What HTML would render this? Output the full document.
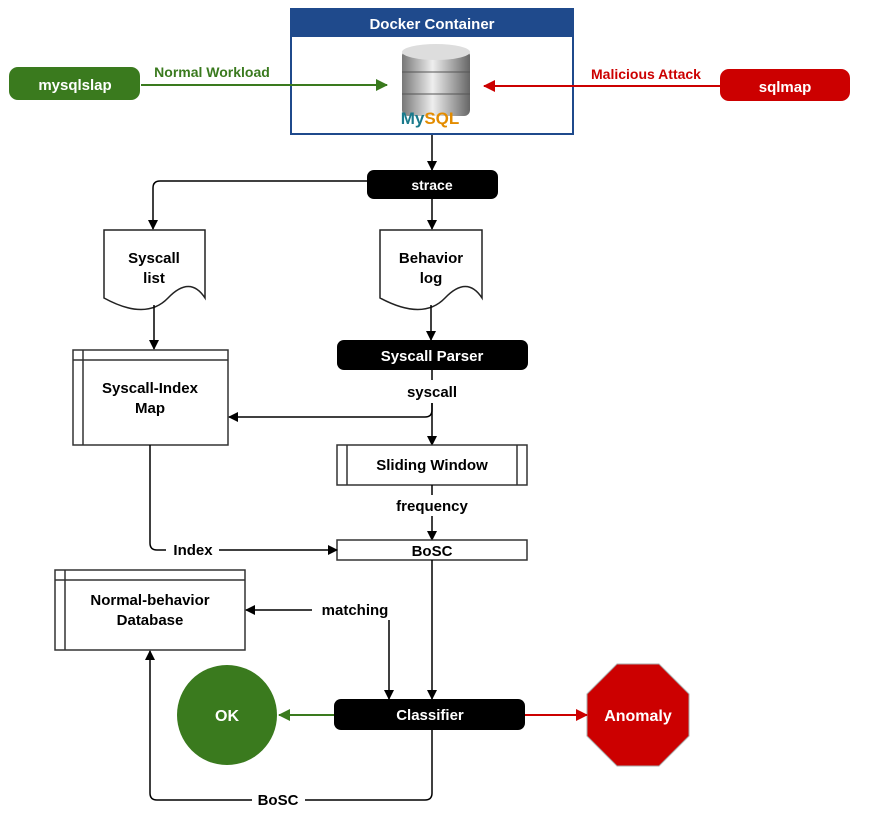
<!DOCTYPE html>
<html><head><meta charset="utf-8"><style>
body{margin:0;background:#fff}
svg text{font-family:"Liberation Sans",Arial,sans-serif;font-weight:bold}
</style></head><body>
<svg width="875" height="830" viewBox="0 0 875 830" xmlns="http://www.w3.org/2000/svg">
<defs>
<marker id="ab" markerWidth="10" markerHeight="10" refX="9" refY="5" orient="auto" markerUnits="userSpaceOnUse"><path d="M0,0 L10,5 L0,10 Z" fill="#000"/></marker>
<marker id="ag" markerWidth="12" markerHeight="12" refX="11" refY="6" orient="auto" markerUnits="userSpaceOnUse"><path d="M0,0 L12,6 L0,12 Z" fill="#3a7a1e"/></marker>
<marker id="ar" markerWidth="12" markerHeight="12" refX="11" refY="6" orient="auto" markerUnits="userSpaceOnUse"><path d="M0,0 L12,6 L0,12 Z" fill="#cc0000"/></marker>
<linearGradient id="cyl" x1="0" x2="1"><stop offset="0" stop-color="#777"/><stop offset="0.45" stop-color="#eee"/><stop offset="1" stop-color="#666"/></linearGradient>
</defs>
<!-- Docker -->
<rect x="291" y="9" width="282" height="125" fill="#fff" stroke="#1f4a8c" stroke-width="2"/>
<rect x="291" y="9" width="282" height="28" fill="#1f4a8c"/>
<text x="432" y="29" font-size="15" fill="#fff" text-anchor="middle">Docker Container</text>
<g>
<rect x="402" y="50" width="68" height="66" rx="6" fill="url(#cyl)"/>
<ellipse cx="436" cy="52" rx="34" ry="8" fill="#ddd"/>
<line x1="402" y1="72" x2="470" y2="72" stroke="#555"/>
<line x1="402" y1="94" x2="470" y2="94" stroke="#555"/>
<text x="430" y="124" font-size="17" fill="#1a7a8c" text-anchor="middle">My<tspan fill="#e38c00">SQL</tspan></text>
</g>
<!-- pills -->
<rect x="9" y="67" width="131" height="33" rx="9" fill="#3a7a1e"/>
<text x="75" y="90" font-size="15" fill="#fff" text-anchor="middle">mysqlslap</text>
<rect x="720" y="69" width="130" height="32" rx="9" fill="#cc0000"/>
<text x="785" y="92" font-size="15" fill="#fff" text-anchor="middle">sqlmap</text>
<line x1="141" y1="85" x2="387" y2="85" stroke="#3a7a1e" stroke-width="2" marker-end="url(#ag)"/>
<text x="212" y="77" font-size="14" fill="#3a7a1e" text-anchor="middle">Normal Workload</text>
<line x1="720" y1="86" x2="484" y2="86" stroke="#cc0000" stroke-width="2" marker-end="url(#ar)"/>
<text x="646" y="79" font-size="14" fill="#cc0000" text-anchor="middle">Malicious Attack</text>
<!-- strace -->
<line x1="432" y1="135" x2="432" y2="170" stroke="#000" stroke-width="1.5" marker-end="url(#ab)"/>
<rect x="367" y="170" width="131" height="29" rx="7" fill="#000"/>
<text x="432" y="190" font-size="14" fill="#fff" text-anchor="middle">strace</text>
<path d="M367,181 H160 Q153,181 153,188 V229" fill="none" stroke="#000" stroke-width="1.5" marker-end="url(#ab)"/>
<line x1="432" y1="199" x2="432" y2="229" stroke="#000" stroke-width="1.5" marker-end="url(#ab)"/>
<!-- documents -->
<path d="M104,230 H205 V298 Q190,275 168,298 T104,298 Z" fill="#fff" stroke="#222" stroke-width="1.5"/>
<text x="154" y="263" font-size="15" fill="#000" text-anchor="middle">Syscall</text>
<text x="154" y="283" font-size="15" fill="#000" text-anchor="middle">list</text>
<path d="M380,230 H482 V298 Q467,275 445,298 T380,298 Z" fill="#fff" stroke="#222" stroke-width="1.5"/>
<text x="431" y="263" font-size="15" fill="#000" text-anchor="middle">Behavior</text>
<text x="431" y="283" font-size="15" fill="#000" text-anchor="middle">log</text>
<line x1="154" y1="305" x2="154" y2="349" stroke="#000" stroke-width="1.5" marker-end="url(#ab)"/>
<line x1="431" y1="305" x2="431" y2="340" stroke="#000" stroke-width="1.5" marker-end="url(#ab)"/>
<!-- parser -->
<rect x="337" y="340" width="191" height="30" rx="7" fill="#000"/>
<text x="432" y="361" font-size="15" fill="#fff" text-anchor="middle">Syscall Parser</text>
<!-- index map -->
<rect x="73" y="350" width="155" height="95" fill="#fff" stroke="#333" stroke-width="1.5"/>
<line x1="83" y1="350" x2="83" y2="445" stroke="#333" stroke-width="1.5"/>
<line x1="73" y1="360" x2="228" y2="360" stroke="#333" stroke-width="1.5"/>
<text x="150" y="393" font-size="15" fill="#000" text-anchor="middle">Syscall-Index</text>
<text x="150" y="413" font-size="15" fill="#000" text-anchor="middle">Map</text>
<line x1="432" y1="370" x2="432" y2="380" stroke="#000" stroke-width="1.5"/>
<text x="432" y="397" font-size="15" fill="#000" text-anchor="middle">syscall</text>
<path d="M432,403 V410 Q432,417 425,417 H229" fill="none" stroke="#000" stroke-width="1.5" marker-end="url(#ab)"/>
<line x1="432" y1="403" x2="432" y2="445" stroke="#000" stroke-width="1.5" marker-end="url(#ab)"/>
<!-- sliding window -->
<rect x="337" y="445" width="190" height="40" fill="#fff" stroke="#333" stroke-width="1.5"/>
<line x1="347" y1="445" x2="347" y2="485" stroke="#333" stroke-width="1.5"/>
<line x1="517" y1="445" x2="517" y2="485" stroke="#333" stroke-width="1.5"/>
<text x="432" y="470" font-size="15" fill="#000" text-anchor="middle">Sliding Window</text>
<line x1="432" y1="485" x2="432" y2="495" stroke="#000" stroke-width="1.5"/>
<text x="432" y="511" font-size="15" fill="#000" text-anchor="middle">frequency</text>
<line x1="432" y1="516" x2="432" y2="540" stroke="#000" stroke-width="1.5" marker-end="url(#ab)"/>
<!-- BoSC -->
<rect x="337" y="540" width="190" height="20" fill="#fff" stroke="#333" stroke-width="1.5"/>
<text x="432" y="556" font-size="15" fill="#000" text-anchor="middle">BoSC</text>
<path d="M150,445 V543 Q150,550 157,550 H166" fill="none" stroke="#000" stroke-width="1.5"/>
<text x="193" y="555" font-size="15" fill="#000" text-anchor="middle">Index</text>
<line x1="219" y1="550" x2="337" y2="550" stroke="#000" stroke-width="1.5" marker-end="url(#ab)"/>
<!-- DB -->
<rect x="55" y="570" width="190" height="80" fill="#fff" stroke="#333" stroke-width="1.5"/>
<line x1="65" y1="570" x2="65" y2="650" stroke="#333" stroke-width="1.5"/>
<line x1="55" y1="580" x2="245" y2="580" stroke="#333" stroke-width="1.5"/>
<text x="150" y="605" font-size="15" fill="#000" text-anchor="middle">Normal-behavior</text>
<text x="150" y="625" font-size="15" fill="#000" text-anchor="middle">Database</text>
<line x1="312" y1="610" x2="246" y2="610" stroke="#000" stroke-width="1.5" marker-end="url(#ab)"/>
<text x="355" y="615" font-size="15" fill="#000" text-anchor="middle">matching</text>
<line x1="389" y1="620" x2="389" y2="699" stroke="#000" stroke-width="1.5" marker-end="url(#ab)"/>
<line x1="432" y1="560" x2="432" y2="699" stroke="#000" stroke-width="1.5" marker-end="url(#ab)"/>
<!-- classifier -->
<rect x="334" y="699" width="191" height="31" rx="7" fill="#000"/>
<text x="430" y="720" font-size="15" fill="#fff" text-anchor="middle">Classifier</text>
<circle cx="227" cy="715" r="50" fill="#3a7a1e"/>
<text x="227" y="721" font-size="16" fill="#fff" text-anchor="middle">OK</text>
<line x1="334" y1="715" x2="279" y2="715" stroke="#3a7a1e" stroke-width="2" marker-end="url(#ag)"/>
<polygon points="617,664 659,664 689,694 689,736 659,766 617,766 587,736 587,694" fill="#cc0000" stroke="#aaa" stroke-width="1"/>
<text x="638" y="721" font-size="16" fill="#fff" text-anchor="middle">Anomaly</text>
<line x1="525" y1="715" x2="587" y2="715" stroke="#cc0000" stroke-width="2" marker-end="url(#ar)"/>
<path d="M432,730 V793 Q432,800 425,800 H305 M252,800 H157 Q150,800 150,793 V651" fill="none" stroke="#000" stroke-width="1.5" marker-end="url(#ab)"/>
<text x="278" y="805" font-size="15" fill="#000" text-anchor="middle">BoSC</text>
</svg>
</body></html>
